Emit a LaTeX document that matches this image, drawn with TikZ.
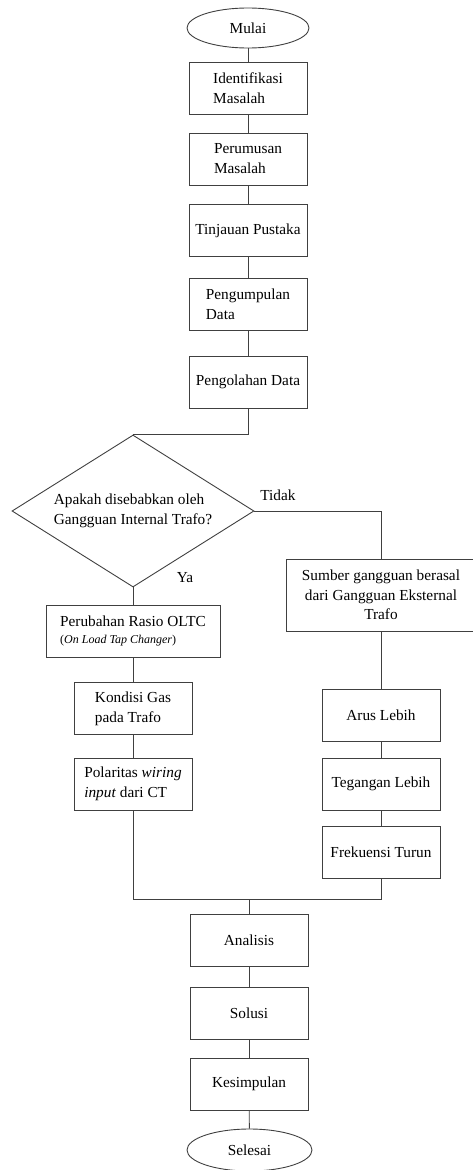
\documentclass[tikz,border=0pt]{standalone}
\usepackage{fontspec}
\setmainfont{Liberation Serif}
\usetikzlibrary{shapes.geometric}

\begin{document}
\begin{tikzpicture}[x=1pt,y=-1pt,
    txt/.style={font=\fontsize{15.3}{20}\selectfont},
    box/.style={txt,draw=black!75,line width=0.9pt,rectangle,minimum width=118pt,minimum height=52pt,align=left},
    term/.style={txt,draw=black!75,line width=0.9pt,ellipse,minimum width=122pt,minimum height=40pt,inner sep=0pt},
    choice/.style={txt,draw=black!75,line width=0.9pt,diamond,aspect=1.6,minimum width=242pt,minimum height=152pt,inner sep=1pt,align=left},
    lnk/.style={draw=black!75,line width=0.9pt}]
                \clip (0,0) rectangle (473,1170);

                \node[term] (start) at (248,28) {Mulai};
                \node[box] (ident) at (248,88) {Identifikasi\\Masalah}; \node[box] (rumus) at (248,159) {Perumusan\\Masalah};
                \node[box] (tinjau) at (248,230.5) {Tinjauan Pustaka}; \node[box] (kumpul) at (248,304.5) {Pengumpulan\\Data};
                \node[box] (olah) at (248,382) {Pengolahan Data};

                \node[choice] (dec) at (133,511) {Apakah disebabkan oleh\\Gangguan Internal Trafo?};
                \node[txt] (tidak) at (278,495) {Tidak}; \node[txt] (ya) at (185,578) {Ya};

                \node[box,minimum width=174pt] (perub) at (133,631) {Perubahan Rasio OLTC\\[-3pt]{\fontsize{12}{14}\selectfont(\textit{On Load Tap Changer})}};
                \node[box] (kond) at (133,708.5) {Kondisi Gas\\pada Trafo}; \node[box] (polar) at (133,784) {Polaritas \textit{wiring}\\\textit{input} dari CT};

                \node[box,minimum width=190pt,minimum height=72pt,align=center,font=\fontsize{15.3}{19.5}\selectfont] (sumber) at (381,595) {Sumber gangguan berasal\\dari Gangguan Eksternal\\Trafo};
                \node[box] (arus) at (381,715.5) {Arus Lebih}; \node[box] (teg) at (381,784) {Tegangan Lebih}; \node[box] (frek) at (381,852) {Frekuensi Turun};

                \coordinate (join) at (249,899);
                \node[box] (anal) at (249,940.5) {Analisis}; \node[box] (solusi) at (249,1013) {Solusi};
                \node[box] (kesimp) at (249,1084) {Kesimpulan}; \node[term,minimum width=125pt,minimum height=42pt] (finish) at (249.5,1150) {Selesai};

                \draw[lnk] (start) to (ident); \draw[lnk] (ident) to (rumus); \draw[lnk] (rumus) to (tinjau);
                \draw[lnk] (tinjau) to (kumpul); \draw[lnk] (kumpul) to (olah); \draw[lnk] (olah) |- (dec.north);
                \draw[lnk] (dec) -| (sumber); \draw[lnk] (dec) to (perub);
                \draw[lnk] (perub) to (kond); \draw[lnk] (kond) to (polar);
                \draw[lnk] (sumber) to (arus); \draw[lnk] (arus) to (teg); \draw[lnk] (teg) to (frek);
                \draw[lnk] (polar) |- (join); \draw[lnk] (frek) |- (join); \draw[lnk] (join) to (anal);
                \draw[lnk] (anal) to (solusi); \draw[lnk] (solusi) to (kesimp); \draw[lnk] (kesimp) to (finish);
            \end{tikzpicture}
\end{document}
